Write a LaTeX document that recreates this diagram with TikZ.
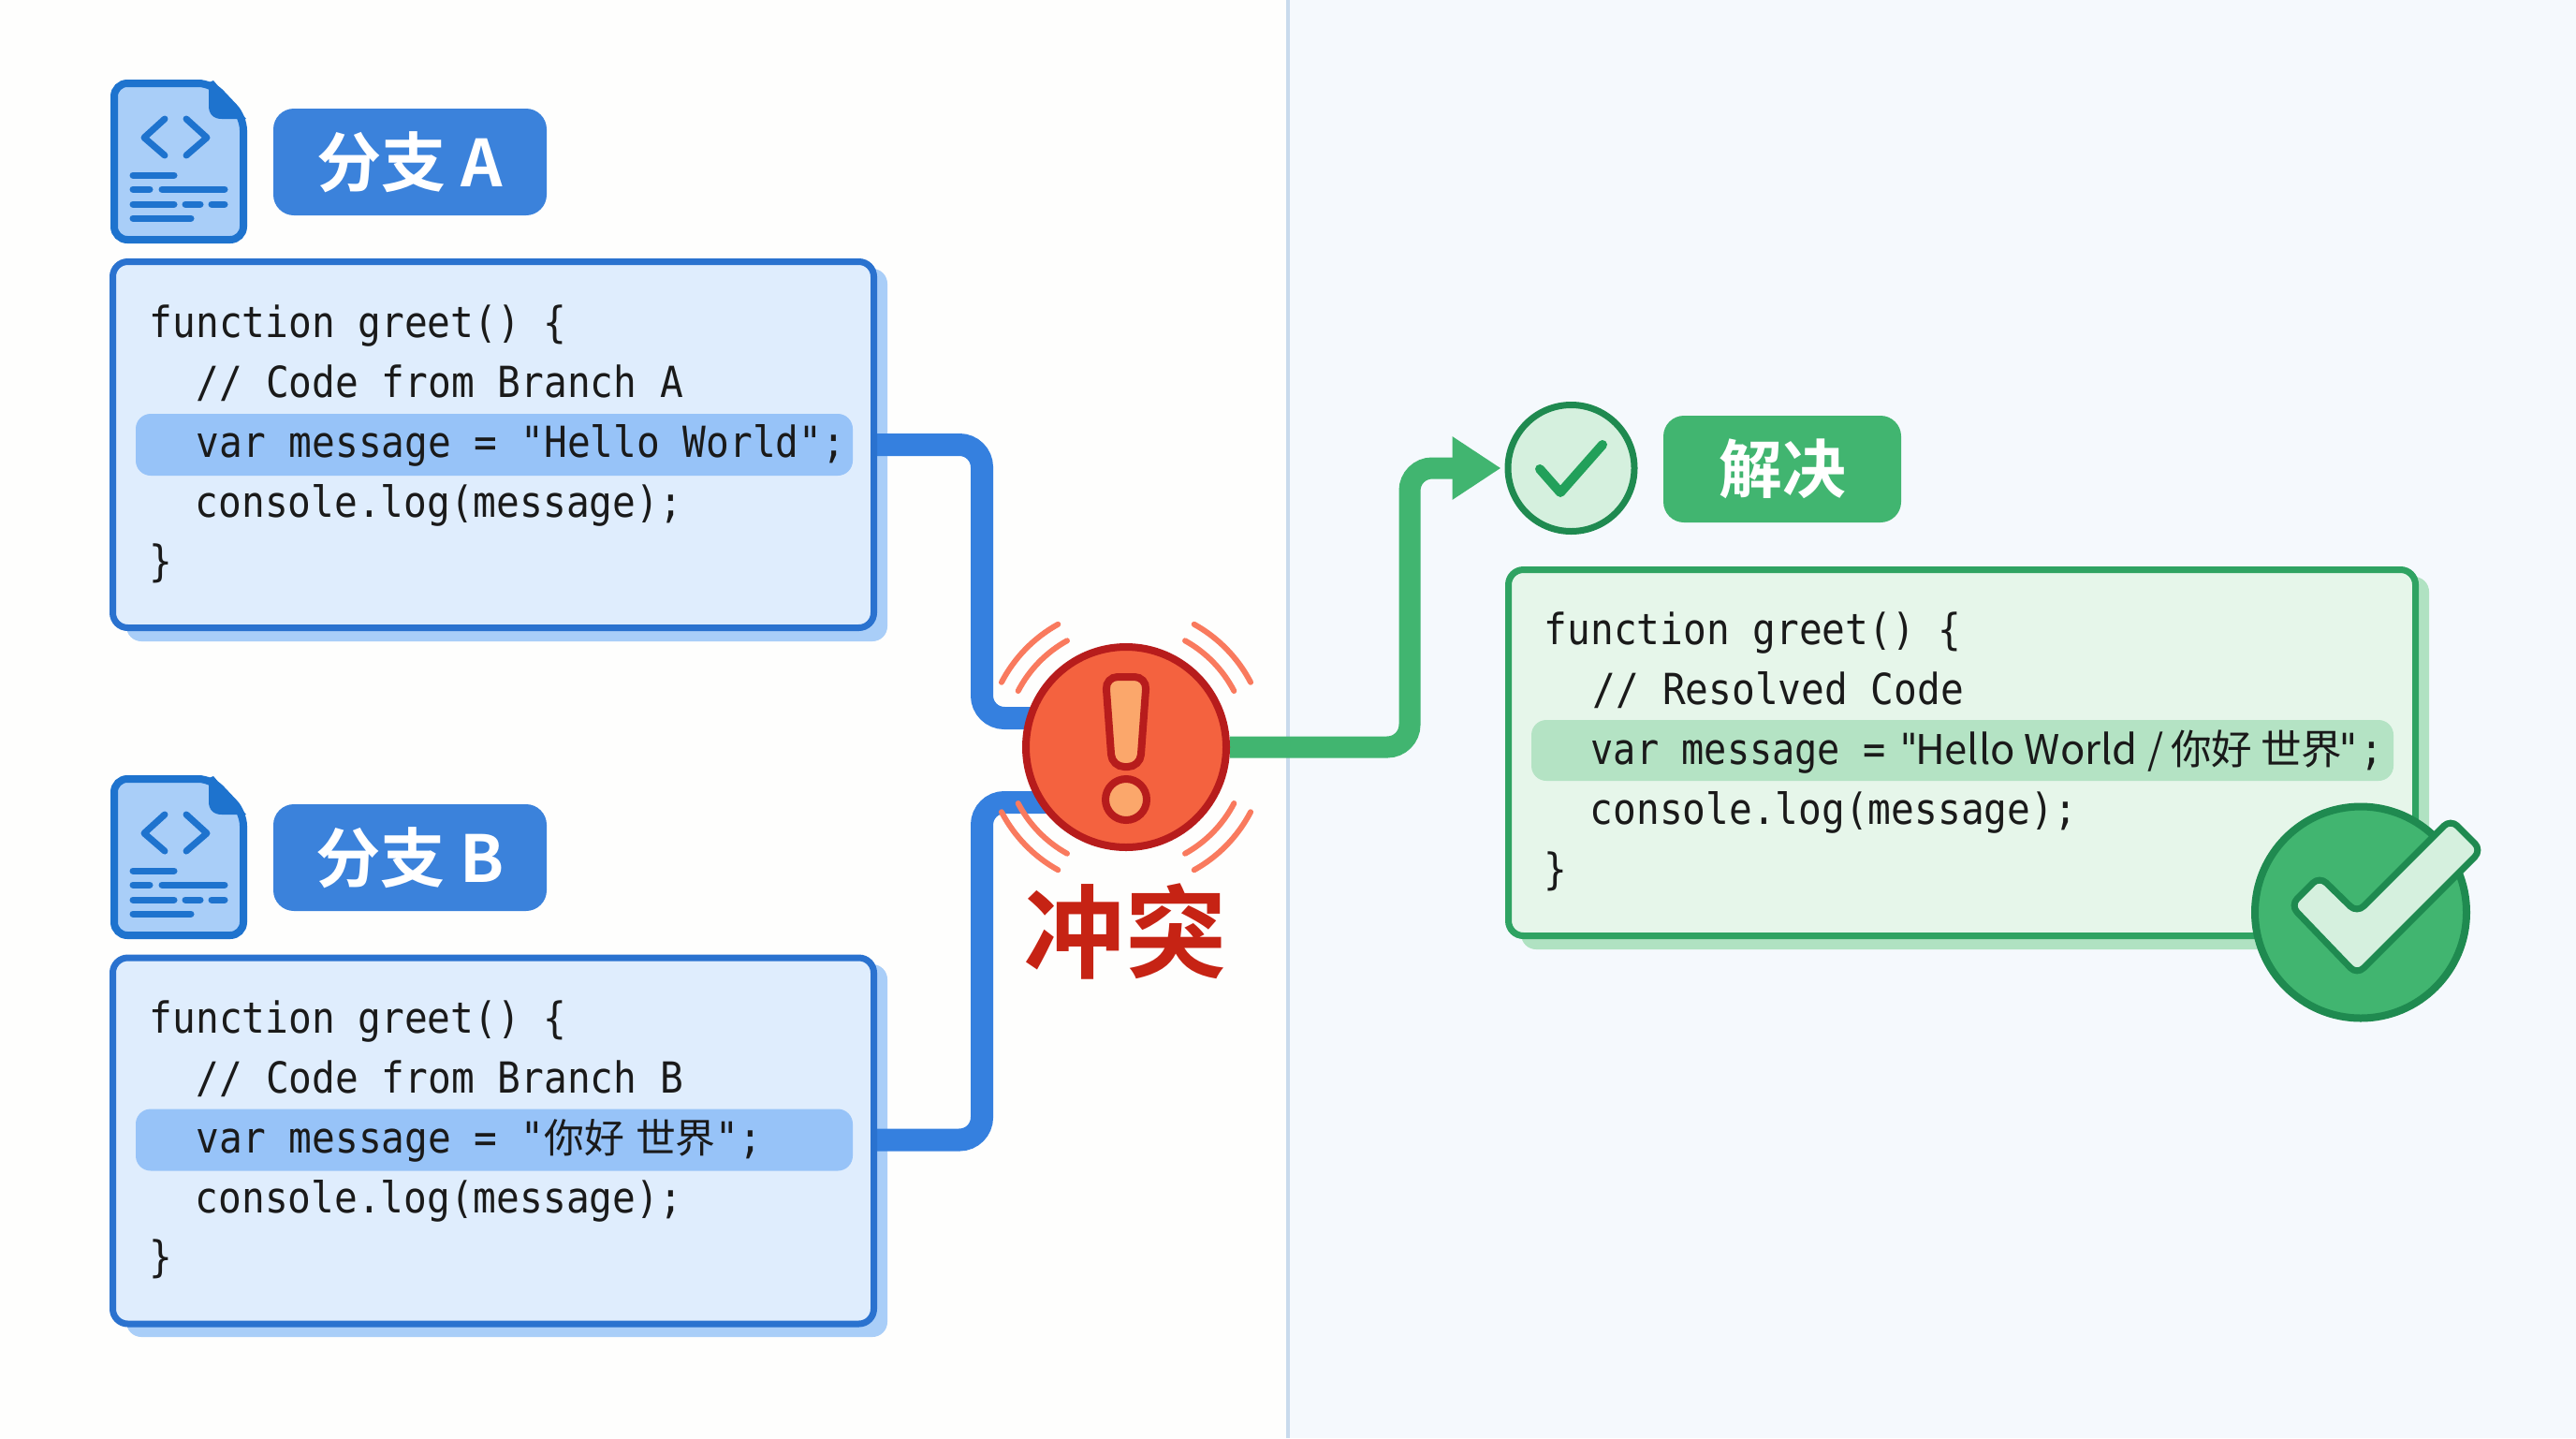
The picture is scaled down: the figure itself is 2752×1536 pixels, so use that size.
\documentclass[tikz,border=0pt]{standalone}
\usepackage{fontspec}
\usetikzlibrary{arrows.meta,calc}
\newfontfamily\codefont[FakeStretch=0.9]{DejaVu Sans Mono}
\newfontfamily\tightfont[FakeStretch=0.88]{DejaVu Sans Mono}
\newfontfamily\cjk{Noto Sans CJK SC}
\newfontfamily\cjkbold{Noto Sans CJK SC Bold}
\newcommand\pxu{0.01cm}
\newcommand\pk[1]{\kern#1\dimexpr\pxu\relax}
\newcommand\cn[1]{{\cjk\fontsize{12.2pt}{15pt}\selectfont #1}}
\definecolor{panelL}{HTML}{FEFEFD}
\definecolor{panelR}{HTML}{F5F9FD}
\definecolor{divider}{HTML}{C9DAEC}
\definecolor{blueLine}{HTML}{2A72CF}
\definecolor{blueConn}{HTML}{3580DF}
\definecolor{blueFill}{HTML}{DFEDFD}
\definecolor{blueShadow}{HTML}{A9CEF8}
\definecolor{blueHi}{HTML}{97C3F8}
\definecolor{blueBadge}{HTML}{3B82DB}
\definecolor{iconDark}{HTML}{1E73CE}
\definecolor{greenLine}{HTML}{2FA362}
\definecolor{greenFill}{HTML}{E6F6EA}
\definecolor{greenShadow}{HTML}{B0E2C2}
\definecolor{greenHi}{HTML}{B4E3C4}
\definecolor{greenMain}{HTML}{41B570}
\definecolor{greenDark}{HTML}{1F8A50}
\definecolor{greenTick}{HTML}{22A05A}
\definecolor{greenPale}{HTML}{D5F0DE}
\definecolor{redDark}{HTML}{B71C1C}
\definecolor{redFill}{HTML}{F4623F}
\definecolor{redArc}{HTML}{F97A5E}
\definecolor{redText}{HTML}{C62314}
\definecolor{amber}{HTML}{FBA76B}
\definecolor{ink}{HTML}{1A1A1A}
\pgfdeclarelayer{backlayer}
\pgfdeclarelayer{connlayer}
\pgfsetlayers{backlayer,connlayer,main}
\tikzset{
  codebox/.style={draw=#1,line width=7*\pxu,rounded corners=16*\pxu,inner sep=0pt,
    minimum width=813*\pxu,minimum height=391*\pxu},
  hiline/.style={fill=#1,rounded corners=16*\pxu,inner sep=0pt,minimum height=66*\pxu},
  shadowbox/.style={rounded corners=16*\pxu},
  codeline/.style={anchor=base west,inner sep=0pt,text=ink,
    font=\codefont\fontsize{13pt}{15pt}\selectfont},
  badge/.style={fill=#1,rounded corners=22*\pxu,inner sep=0pt,text=white,
    minimum height=114*\pxu,font=\cjkbold\fontsize{19.7pt}{22pt}\selectfont},
  bluewire/.style={draw=blueConn,line width=24*\pxu,rounded corners=24*\pxu},
  greenwire/.style={draw=greenMain,line width=23*\pxu,rounded corners=24*\pxu},
  iconstroke/.style={draw=iconDark,line width=7*\pxu,line cap=round,line join=round},
  ripple/.style={draw=redArc,line width=6*\pxu,line cap=round},
}
\newcommand\docicon[1]{%
  \begin{scope}[shift={(0,#1)}]
    \draw[fill=blueShadow,draw=iconDark,line width=8*\pxu,rounded corners=14*\pxu]
      (122,89) -- (226,89) -- (260,125) -- (260,256) -- (122,256) -- cycle;
    \fill[iconDark] (223,88) -- (223,113)
      .. controls (223,122) and (228,127) .. (237,127) -- (263,127) -- (228,86) -- cycle;
    \draw[iconstroke] (176,127) -- (154,147) -- (176,166);
    \draw[iconstroke] (199,127) -- (221,147) -- (199,166);
    \draw[iconstroke] (142,187) -- (186,187);
    \draw[iconstroke] (142,202) -- (160,202) (173,202) -- (240,202);
    \draw[iconstroke] (142,218) -- (186,218) (198,218) -- (214,218) (226,218) -- (240,218);
    \draw[iconstroke] (142,233) -- (204,233);
  \end{scope}}
\newcommand\ripplearc[3]{%
  \draw[ripple] ($(alert)+({#1*cos(#2)},{-#1*sin(#2)})$)
    arc[start angle=#2,end angle=#3,radius=#1*\pxu];}
\begin{document}
\begin{tikzpicture}[x=0.01cm,y=-0.01cm]
\useasboundingbox (0,0) rectangle (2752,1536);
\begin{pgfonlayer}{backlayer}
  \fill[panelL] (0,0) rectangle (1376,1536);
  \fill[panelR] (1376,0) rectangle (2752,1536);
  \draw[divider,line width=4*\pxu] (1376,0) -- (1376,1536);
  \fill[blueShadow,shadowbox] (135,287) rectangle (948,685);
  \fill[blueShadow,shadowbox] (135,1030) rectangle (948,1428);
  \fill[greenShadow,shadowbox] (1625,616) rectangle (2595,1014);
\end{pgfonlayer}

% branch A
\docicon{0}
\node[badge=blueBadge,minimum width=292*\pxu] (badgeA) at (438,173) {分支 A};
\node[codebox=blueLine,fill=blueFill] (codeA) at (527,475) {};
\node[hiline=blueHi,minimum width=766*\pxu] (lineA) at (528,475) {};
\node[codeline] (a1) at (159,360) {function greet() \{};
\node[codeline] (a2) at (209,424) {// Code from Branch A};
\node[codeline] (a3) at (209,488) {var message = "Hello World";};
\node[codeline] (a4) at (208,552) {console.log(message);};
\node[codeline] (a5) at (159,615) {\}};

% branch B
\docicon{743}
\node[badge=blueBadge,minimum width=292*\pxu] (badgeB) at (438,916) {分支 B};
\node[codebox=blueLine,fill=blueFill] (codeB) at (527,1218.5) {};
\node[hiline=blueHi,minimum width=766*\pxu] (lineB) at (528,1217.5) {};
\node[codeline] (b1) at (159,1103) {function greet() \{};
\node[codeline] (b2) at (209,1167) {// Code from Branch B};
\node[codeline] (b3) at (209,1231) {var message = "\cn{你好\pk{12}世界}";};
\node[codeline] (b4) at (208,1295) {console.log(message);};
\node[codeline] (b5) at (159,1358) {\}};

% conflict
\node[circle,draw=redDark,fill=redFill,line width=8*\pxu,inner sep=0pt,minimum size=214*\pxu] (alert) at (1203,798) {};
\draw[draw=redDark,fill=amber,line width=8*\pxu,rounded corners=13*\pxu]
  (1181,723) -- (1225,723) -- (1218,819) -- (1188,819) -- cycle;
\node[circle,draw=redDark,fill=amber,line width=8*\pxu,inner sep=0pt,minimum size=44*\pxu] (alertDot) at (1203,854) {};
\foreach \r in {130,150}{
  \ripplearc{\r}{119}{152.5}
  \ripplearc{\r}{61}{27.5}
  \ripplearc{\r}{241}{207.5}
  \ripplearc{\r}{299}{332.5}
}
\node[inner sep=0pt,text=redText,font=\cjkbold\fontsize{30.8pt}{34pt}\selectfont] (alertText) at (1202,995) {冲突};

% resolved
\node[circle,draw=greenDark,fill=greenPale,line width=7*\pxu,inner sep=0pt,minimum size=135*\pxu] (tickC) at (1678.5,500) {};
\draw[draw=greenTick,line width=10*\pxu,line cap=round,line join=round] (1645,501) -- (1667,526) -- (1712,475);
\node[badge=greenMain,minimum width=254*\pxu,font=\cjkbold\fontsize{19.3pt}{22pt}\selectfont] (badgeR) at (1904,501) {解决};
\node[codebox=greenLine,fill=greenFill,minimum width=969*\pxu,minimum height=391*\pxu] (codeR) at (2096,804) {};
\node[hiline=greenHi,minimum width=921*\pxu,minimum height=65*\pxu] (lineR) at (2096.5,801.5) {};
\node[codeline] (r1) at (1649,688) {function greet() \{};
\node[codeline] (r2) at (1701,752) {// Resolved Code};
\node[codeline] (r3) at (1699,816.5) {{\tightfont var message =\pk{-4} \pk{-7}"\pk{-6}}\cn{\fontsize{12.4pt}{15pt}\selectfont Hello World\pk{11}/\pk{7}你好\pk{9}世界}\pk{-6}";};
\node[codeline] (r4) at (1698,880) {console.log(message);};
\node[codeline] (r5) at (1649,944) {\}};
\node[circle,draw=greenDark,fill=greenMain,line width=8*\pxu,inner sep=0pt,minimum size=226*\pxu] (doneC) at (2522,974.5) {};
\draw[draw=greenDark,fill=greenPale,line width=7*\pxu,rounded corners=10*\pxu,line join=round]
  (2447,967) -- (2478,936) -- (2518,975) -- (2618,875) -- (2651,908) -- (2518,1041) -- cycle;

% connectors
\coordinate (busA) at (1049,767);
\coordinate (busB) at (1049,857);
\coordinate (bendG) at (1506,798);
\begin{pgfonlayer}{connlayer}
  \draw[bluewire] (codeA.east |- lineA) -| (busA) -- (busA -| alert);
  \draw[bluewire] (codeB.east |- lineB) -| (busB) -- (busB -| alert);
  \draw[greenwire,shorten >=4*\pxu,-{Triangle[length=52*\pxu,width=64*\pxu]}]
    (alert) -- (bendG) -- (bendG |- tickC) -- (tickC.west);
\end{pgfonlayer}
\end{tikzpicture}
\end{document}
